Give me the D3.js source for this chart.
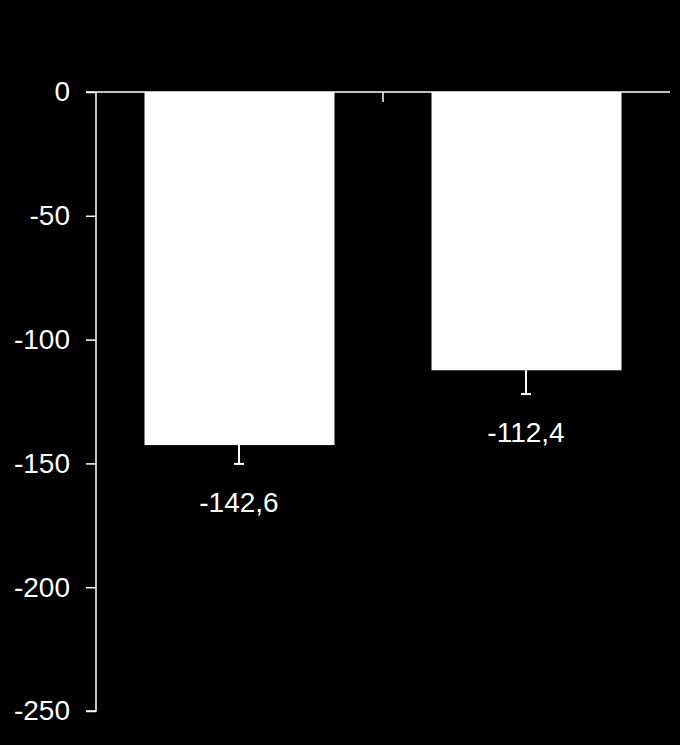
<!DOCTYPE html>
<html><head><meta charset="utf-8">
<script src="https://cdn.jsdelivr.net/npm/d3@7"></script>
<style>html,body{margin:0;padding:0;background:#000;}svg{display:block;}</style>
</head><body>
<script>
const categories = ["A", "B"];
const values = [-142.6, -112.4];
const errors = [7.6, 9.6];
const valueLabels = ["-142,6", "-112,4"];
const yTicks = [0, -50, -100, -150, -200, -250];

const W = 680, H = 745;
const svg = d3.select("body").append("svg").attr("width", W).attr("height", H)
  .style("background", "#000");

const y = d3.scaleLinear().domain([0, -250]).range([92, 711]);
const x = d3.scaleBand().domain(categories).range([96, 670]).padding(0);
const barW = x.bandwidth() * 0.662;
const font = "'Liberation Sans', Arial, sans-serif";

// bars
svg.selectAll("rect.bar").data(values).enter().append("rect")
  .attr("x", (d, i) => x(categories[i]) + x.bandwidth() / 2 - barW / 2)
  .attr("y", y(0))
  .attr("width", barW)
  .attr("height", d => y(d) - y(0))
  .attr("fill", "#fff");

// error bars
values.forEach((v, i) => {
  const cx = x(categories[i]) + x.bandwidth() / 2 - 0.5;
  svg.append("line").attr("x1", cx).attr("x2", cx)
    .attr("y1", y(v)).attr("y2", y(v - errors[i]))
    .attr("stroke", "#fff").attr("stroke-width", 2);
  svg.append("line").attr("x1", cx - 5).attr("x2", cx + 5)
    .attr("y1", y(v - errors[i])).attr("y2", y(v - errors[i]))
    .attr("stroke", "#fff").attr("stroke-width", 2);
  svg.append("text").attr("x", cx).attr("y", y(v - errors[i]) + 48)
    .attr("text-anchor", "middle").attr("fill", "#fff")
    .style("font-family", font).style("font-size", "28px")
    .text(valueLabels[i]);
});

// y axis
const yAxis = d3.axisLeft(y).tickValues(yTicks).tickSize(10).tickPadding(16)
  .tickFormat(d => String(d));
const gy = svg.append("g").attr("transform", "translate(96,0)").call(yAxis);
gy.select(".domain").attr("stroke", "#fff").attr("stroke-width", 1.5).attr("d", `M-10,${y(-250)}H0V${y(0)}`);
gy.selectAll(".tick line").attr("stroke", "#fff").attr("stroke-width", 1.5);
gy.selectAll(".tick text").attr("fill", "#fff").style("font-family", font).style("font-size", "28px");

// x axis line at 0
svg.append("line").attr("x1", 86).attr("x2", 670).attr("y1", y(0)).attr("y2", y(0))
  .attr("stroke", "#fff").attr("stroke-width", 1.5);
// category separator tick
svg.append("line").attr("x1", x("B")).attr("x2", x("B")).attr("y1", y(0)).attr("y2", y(0) + 10)
  .attr("stroke", "#fff").attr("stroke-width", 1.5);
</script>
</body></html>
